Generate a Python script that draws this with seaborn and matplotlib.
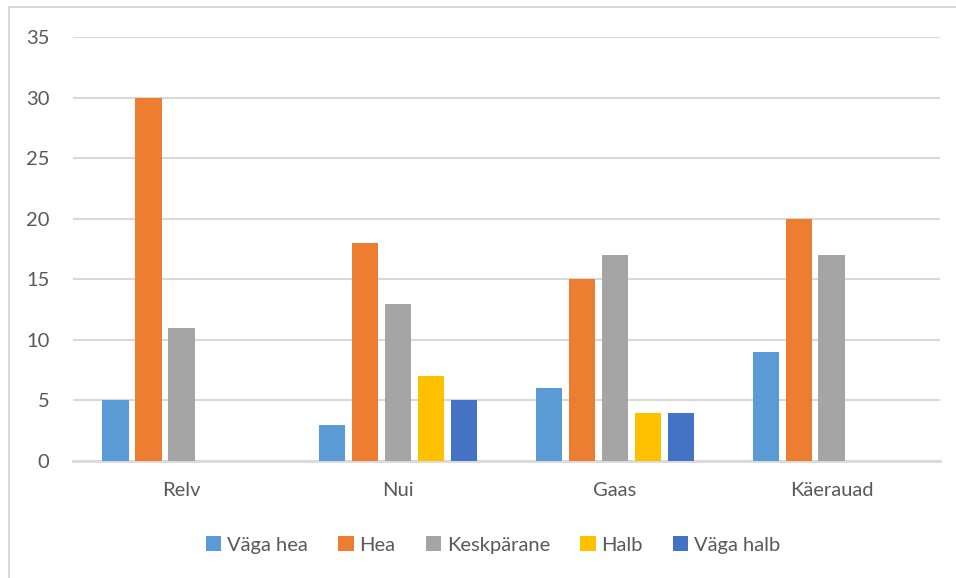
import pandas as pd
import matplotlib.pyplot as plt
from matplotlib.lines import Line2D
import seaborn as sns

# andmed
categories = ["Relv", "Nui", "Gaas", "Käerauad"]
series = ["Väga hea", "Hea", "Keskpärane", "Halb", "Väga halb"]
vaga_hea = [5, 3, 6, 9]
hea = [30, 18, 15, 20]
keskparane = [11, 13, 17, 17]
halb = [0, 7, 4, 0]
vaga_halb = [0, 5, 4, 0]
colors = ["#5B9BD5", "#ED7D31", "#A5A5A5", "#FFC000", "#4472C4"]


def build_df():
    rows = []
    for name, vals in zip(series, [vaga_hea, hea, keskparane, halb, vaga_halb]):
        for cat, v in zip(categories, vals):
            rows.append({"kategooria": cat, "hinnang": name, "arv": v})
    return pd.DataFrame(rows)


def draw(df):
    sns.set_style("white")
    plt.rcParams["font.family"] = ["Lato", "DejaVu Sans"]

    fig = plt.figure(figsize=(9.56, 5.78), dpi=100)
    ax = fig.add_axes([73 / 956, 1 - 461 / 578, 867 / 956, 424 / 578])

    sns.barplot(data=df, x="kategooria", y="arv", hue="hinnang",
                hue_order=series, palette=colors, width=0.76, gap=0.2,
                saturation=1, edgecolor="none", ax=ax, zorder=3)

    ax.set_ylim(0, 35)
    ax.set_yticks(range(0, 36, 5))
    ax.yaxis.grid(True, color="#D9D9D9", linewidth=1.5, zorder=0)
    ax.set_axisbelow(True)
    for side in ["left", "right", "top"]:
        ax.spines[side].set_visible(False)
    ax.spines["bottom"].set_color("#D9D9D9")
    ax.spines["bottom"].set_linewidth(2)
    ax.tick_params(axis="both", length=0, labelsize=14.5, colors="#595959")
    ax.tick_params(axis="x", pad=15)
    ax.tick_params(axis="y", pad=17)
    ax.set_xlabel("")
    ax.set_ylabel("")

    # legend veidi vasakule, nagu Exceli diagrammil
    ax.legend(loc="center", bbox_to_anchor=(0.485, -0.198), ncol=5,
              frameon=False, fontsize=14.5, handlelength=0.75, handleheight=0.75,
              handletextpad=0.3, columnspacing=1.5, labelcolor="#595959")

    # diagrammi ala raam
    fig.add_artist(Line2D([9 / 956, 1], [1 - 7 / 578, 1 - 7 / 578],
                          color="#D9D9D9", linewidth=1.5))
    fig.add_artist(Line2D([9 / 956, 9 / 956], [0, 1 - 7 / 578],
                          color="#D9D9D9", linewidth=1.5))

    fig.savefig("out.png", dpi=100)


if __name__ == "__main__":
    df = build_df()
    draw(df)
